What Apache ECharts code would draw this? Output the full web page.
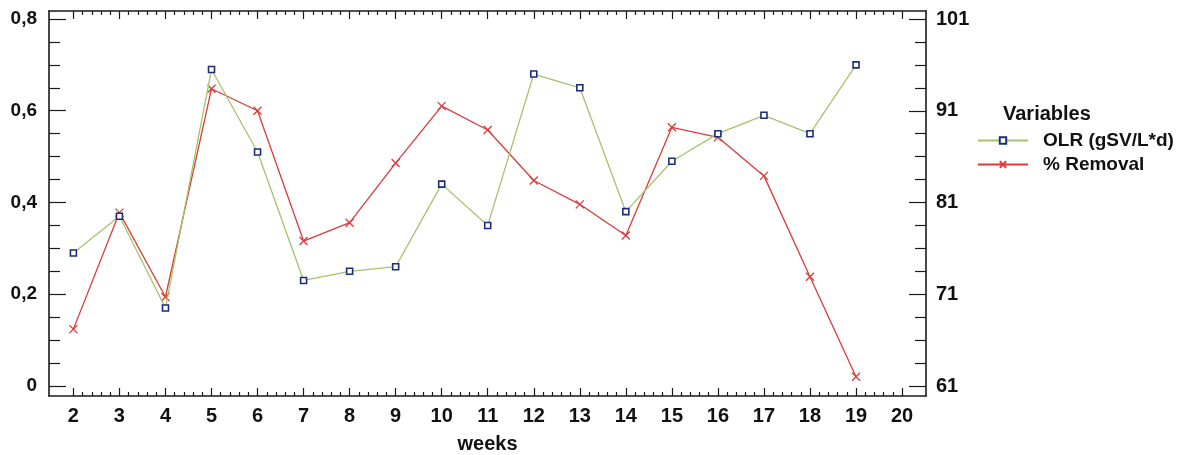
<!DOCTYPE html>
<html>
<head>
<meta charset="utf-8">
<script src="https://cdn.jsdelivr.net/npm/echarts@6/dist/echarts.min.js"></script>
<style>
  html, body { margin: 0; padding: 0; background: #fff; }
  #chart { width: 1199px; height: 455px; }
</style>
</head>
<body>
<div id="chart"></div>
<script>
// Weekly readings
const weeks = [2, 3, 4, 5, 6, 7, 8, 9, 10, 11, 12, 13, 14, 15, 16, 17, 18, 19];
const olr = [0.29, 0.37, 0.17, 0.69, 0.51, 0.23, 0.25, 0.26, 0.44, 0.35, 0.68, 0.65, 0.38, 0.49, 0.55, 0.59, 0.55, 0.70];
const removal = [67.2, 79.9, 70.7, 93.4, 91.0, 76.8, 78.8, 85.3, 91.5, 88.9, 83.4, 80.8, 77.4, 89.2, 88.1, 83.9, 72.9, 62.0];

// Tick labels
const weekTicks = [2, 3, 4, 5, 6, 7, 8, 9, 10, 11, 12, 13, 14, 15, 16, 17, 18, 19, 20];
const leftTicks = [0, 0.2, 0.4, 0.6, 0.8];
const rightTicks = [61, 71, 81, 91, 101];

const legendTitle = 'Variables';
const seriesNames = ['OLR (gSV/L*d)', '% Removal'];

// minor tick positions between the labelled ticks
function minorBetween(major, parts) {
  const out = [];
  for (let i = 0; i < major.length - 1; i++) {
    const a = major[i], b = major[i + 1];
    for (let k = 1; k < parts; k++) out.push(+(a + (b - a) * k / parts).toFixed(4));
  }
  return out;
}

const xMinor = minorBetween(weekTicks, 5);
const leftMinor = minorBetween(leftTicks, 4);
const rightMinor = minorBetween(rightTicks, 4);

// axis extents: the frame sits a little beyond the end ticks
const xMin = 1.47, xMax = 20.52;
const leftMin = -0.0218, leftMax = 0.8174;
const rightMin = 59.91, rightMax = 101.872;

const frameLine = { show: true, onZero: false, lineStyle: { color: '#1a1a1a', width: 1.6 } };
const noLine = { show: false, onZero: false };
const tickStyle = { color: '#1a1a1a', width: 1.2 };
const boldFont = 'Liberation Sans, Arial, sans-serif';

function xAxis(pos, values, len, withLabels, withLine) {
  return {
    type: 'value', position: pos, min: xMin, max: xMax,
    axisLine: withLine ? frameLine : noLine,
    splitLine: { show: false },
    axisTick: { show: true, inside: true, length: len, customValues: values, lineStyle: tickStyle },
    axisLabel: withLabels ? {
      show: true, customValues: weekTicks, margin: 10,
      fontFamily: 'Liberation Sans Narrow, Arial Narrow, ' + boldFont,
      fontWeight: 'bold', fontSize: 20, color: '#111'
    } : { show: false },
    name: withLabels ? 'weeks' : '',
    nameLocation: 'middle', nameGap: 38,
    nameTextStyle: { fontFamily: boldFont, fontWeight: 'bold', fontSize: 20, color: '#111' }
  };
}

function yAxis(pos, min, max, values, len, labels, withLine, fmt, fontSize, margin) {
  return {
    type: 'value', position: pos, min: min, max: max,
    axisLine: withLine ? frameLine : noLine,
    splitLine: { show: false },
    axisTick: { show: true, inside: true, length: len, customValues: values, lineStyle: tickStyle },
    axisLabel: labels ? {
      show: true, customValues: labels, margin: margin,
      formatter: fmt, fontFamily: boldFont, fontWeight: 'bold', fontSize: fontSize, color: '#111'
    } : { show: false }
  };
}

const chart = echarts.init(document.getElementById('chart'));
chart.setOption({
  animation: false,
  backgroundColor: '#fff',
  grid: { left: 49, top: 11, width: 877, height: 385, containLabel: false, outerBoundsMode: 'none' },
  xAxis: [
    xAxis('bottom', weekTicks, 8, true, true),
    xAxis('bottom', xMinor, 4, false, false),
    xAxis('top', weekTicks, 8, false, true),
    xAxis('top', xMinor, 4, false, false)
  ],
  yAxis: [
    yAxis('left', leftMin, leftMax, leftTicks, 17, leftTicks, true,
      v => (v === 0 ? '0' : v.toFixed(1).replace('.', ',')), 19, 12),
    yAxis('left', leftMin, leftMax, leftMinor, 11, null, false),
    yAxis('right', rightMin, rightMax, rightTicks, 17, rightTicks, true,
      v => String(Math.round(v)), 20, 10),
    yAxis('right', rightMin, rightMax, rightMinor, 11, null, false)
  ],
  legend: {
    orient: 'vertical', left: 977, top: 131, padding: 0,
    itemWidth: 50, itemHeight: 8, itemGap: 5,
    data: seriesNames,
    textStyle: { fontFamily: boldFont, fontWeight: 'bold', fontSize: 19, color: '#111', padding: [0, 0, 0, 10] }
  },
  graphic: [{
    type: 'text', left: 1003, top: 104,
    style: { text: legendTitle, font: 'bold 20px ' + boldFont, fill: '#111' }
  }],
  series: [
    {
      name: seriesNames[0], type: 'line', xAxisIndex: 0, yAxisIndex: 0,
      data: weeks.map((w, i) => [w, olr[i]]),
      symbol: 'rect', symbolSize: 6,
      lineStyle: { color: '#a3c46c', width: 1.3 },
      itemStyle: { color: '#ffffff', borderColor: '#1d2d7a', borderWidth: 1.6 },
      z: 3
    },
    {
      name: seriesNames[1], type: 'line', xAxisIndex: 0, yAxisIndex: 2,
      data: weeks.map((w, i) => [w, removal[i]]),
      symbol: 'path://M0,0L10,10M10,0L0,10', symbolSize: 8,
      lineStyle: { color: '#dc3a3a', width: 1.3 },
      itemStyle: { color: 'none', borderColor: '#dc3a3a', borderWidth: 1.3 },
      z: 2
    }
  ]
});
</script>
</body>
</html>
